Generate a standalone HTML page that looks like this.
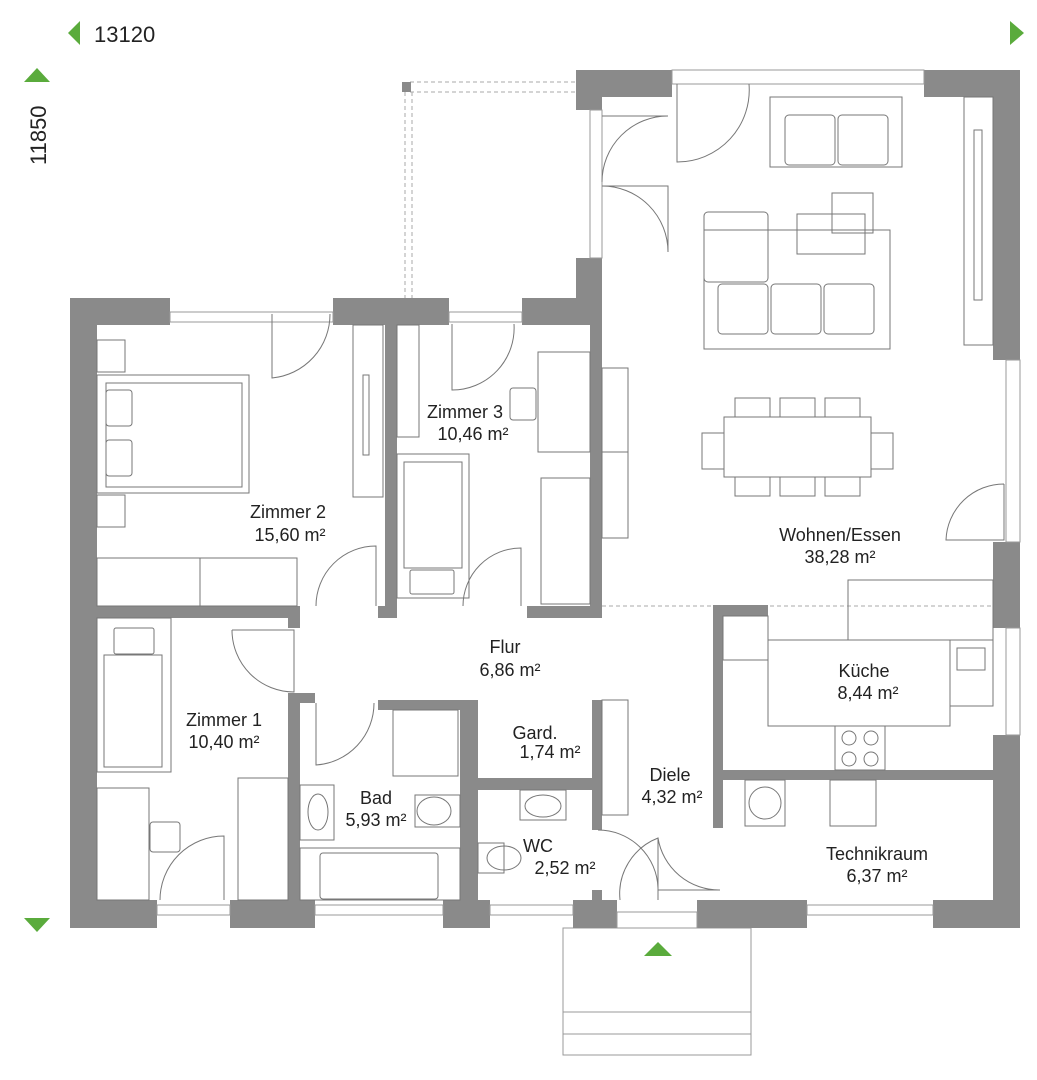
<!DOCTYPE html>
<html><head><meta charset="utf-8"><style>
html,body{margin:0;padding:0;background:#fff;}
svg{display:block;}
text{font-family:"Liberation Sans",sans-serif;fill:#222;}
</style></head><body>
<svg width="1037" height="1080" viewBox="0 0 1037 1080" xmlns="http://www.w3.org/2000/svg">
<polygon points="68,33 80,21 80,45" fill="#5aab3c"/>
<polygon points="1024,33 1010,21 1010,45" fill="#5aab3c"/>
<text x="94" y="42" font-size="22">13120</text>
<polygon points="37,68 24,82 50,82" fill="#5aab3c"/>
<polygon points="37,932 24,918 50,918" fill="#5aab3c"/>
<text x="46" y="165" font-size="22" transform="rotate(-90 46 165)">11850</text>
<polygon points="658,942 644,956 672,956" fill="#5aab3c"/>

<g stroke="#aaa" stroke-dasharray="4,3" fill="none" stroke-width="1">
<line x1="410" y1="82" x2="576" y2="82"/><line x1="410" y1="92" x2="576" y2="92"/>
<line x1="405" y1="92" x2="405" y2="298"/><line x1="412" y1="92" x2="412" y2="298"/>
<line x1="602" y1="606" x2="993" y2="606"/>
</g>
<rect x="402" y="82" width="9" height="10" fill="#8a8a8a"/>

<g stroke="#999" fill="none" stroke-width="1">
<rect x="563" y="928" width="188" height="127"/>
<line x1="563" y1="1012" x2="751" y2="1012"/><line x1="563" y1="1034" x2="751" y2="1034"/>
</g>

<g fill="#8a8a8a">
<rect x="70" y="298" width="27" height="630"/>
<rect x="70" y="298" width="100" height="27"/>
<rect x="333" y="298" width="116" height="27"/>
<rect x="522" y="298" width="80" height="27"/>
<rect x="576" y="70" width="96" height="27"/>
<rect x="576" y="70" width="26" height="40"/>
<rect x="576" y="258" width="26" height="67"/>
<rect x="590" y="325" width="12" height="293"/>
<rect x="924" y="70" width="96" height="27"/>
<rect x="993" y="70" width="27" height="290"/>
<rect x="993" y="542" width="27" height="86"/>
<rect x="993" y="735" width="27" height="193"/>
<rect x="70" y="900" width="87" height="28"/>
<rect x="230" y="900" width="85" height="28"/>
<rect x="443" y="900" width="47" height="28"/>
<rect x="573" y="900" width="44" height="28"/>
<rect x="697" y="900" width="110" height="28"/>
<rect x="933" y="900" width="87" height="28"/>
<rect x="385" y="325" width="12" height="281"/>
<rect x="97" y="606" width="203" height="12"/>
<rect x="288" y="606" width="12" height="22"/>
<rect x="378" y="606" width="19" height="12"/>
<rect x="527" y="606" width="75" height="12"/>
<rect x="288" y="693" width="12" height="207"/>
<rect x="288" y="693" width="27" height="10"/>
<rect x="378" y="700" width="100" height="10"/>
<rect x="460" y="700" width="18" height="200"/>
<rect x="476" y="778" width="124" height="12"/>
<rect x="592" y="700" width="10" height="115"/>
<rect x="592" y="815" width="10" height="15"/>
<rect x="592" y="890" width="10" height="10"/>
<rect x="713" y="605" width="10" height="223"/>
<rect x="713" y="605" width="55" height="11"/>
<rect x="723" y="770" width="270" height="10"/>
</g>

<g stroke="#999" fill="none" stroke-width="1">
<rect x="170" y="312" width="163" height="10"/>
<rect x="449" y="312" width="73" height="10"/>
<rect x="672" y="70" width="252" height="14"/>
<rect x="590" y="110" width="12" height="148"/>
<rect x="1006" y="360" width="14" height="182"/>
<rect x="1006" y="628" width="14" height="107"/>
<rect x="157" y="905" width="73" height="10"/>
<rect x="315" y="905" width="128" height="10"/>
<rect x="490" y="905" width="83" height="10"/>
<rect x="807" y="905" width="126" height="10"/>
<rect x="617" y="912" width="80" height="16"/>
</g>

<g stroke="#777" fill="none" stroke-width="1">
<path d="M272 314 V378 A64 64 0 0 0 330 314"/>
<path d="M452 324 V390 A62 62 0 0 0 514 324"/>
<path d="M677 84 V162 A72 72 0 0 0 749 84"/>
<path d="M602 116 H668 A66 66 0 0 0 602 182"/>
<path d="M602 186 H668 V252 A66 66 0 0 0 602 186" />
<path d="M316 606 A60 60 0 0 1 376 546 V606"/>
<path d="M463 606 A58 58 0 0 1 521 548 V606"/>
<path d="M232 630 H294 V692 A62 62 0 0 1 232 630"/>
<path d="M316 703 V765 A62 62 0 0 0 374 703"/>
<path d="M160 900 A64 64 0 0 1 224 836 V900"/>
<path d="M620 900 A60 60 0 0 1 658 838 V900"/>
<path d="M658 838 A62 62 0 0 0 720 890 H658"/>
<path d="M598 830 A60 60 0 0 1 658 888"/>
<path d="M1004 484 V540 H946 A58 58 0 0 1 1004 484"/>
</g>

<g stroke="#777" fill="none" stroke-width="1">
<rect x="97" y="340" width="28" height="32"/>
<rect x="97" y="375" width="152" height="118"/>
<rect x="106" y="383" width="136" height="104"/>
<rect x="106" y="390" width="26" height="36" rx="3"/>
<rect x="106" y="440" width="26" height="36" rx="3"/>
<rect x="97" y="495" width="28" height="32"/>
<rect x="97" y="558" width="200" height="48"/><line x1="200" y1="558" x2="200" y2="606"/>
<rect x="353" y="325" width="30" height="172"/><rect x="363" y="375" width="6" height="80"/>
<rect x="397" y="325" width="22" height="112"/>
<rect x="538" y="352" width="52" height="100"/>
<rect x="510" y="388" width="26" height="32" rx="3"/>
<rect x="397" y="454" width="72" height="144"/>
<rect x="404" y="462" width="58" height="106"/>
<rect x="410" y="570" width="44" height="24" rx="2"/>
<rect x="541" y="478" width="49" height="126"/>
<rect x="602" y="368" width="26" height="170"/><line x1="602" y1="452" x2="628" y2="452"/>
<rect x="770" y="97" width="132" height="70"/>
<rect x="785" y="115" width="50" height="50" rx="4"/><rect x="838" y="115" width="50" height="50" rx="4"/>
<rect x="964" y="97" width="29" height="248"/><rect x="974" y="130" width="8" height="170"/>
<rect x="832" y="193" width="41" height="40"/>
<rect x="797" y="214" width="68" height="40"/>
<rect x="704" y="230" width="186" height="119"/>
<rect x="704" y="212" width="64" height="70" rx="4"/>
<rect x="718" y="284" width="50" height="50" rx="4"/><rect x="771" y="284" width="50" height="50" rx="4"/><rect x="824" y="284" width="50" height="50" rx="4"/>
<rect x="724" y="417" width="147" height="60"/>
<rect x="735" y="398" width="35" height="19"/><rect x="780" y="398" width="35" height="19"/><rect x="825" y="398" width="35" height="19"/>
<rect x="735" y="477" width="35" height="19"/><rect x="780" y="477" width="35" height="19"/><rect x="825" y="477" width="35" height="19"/>
<rect x="702" y="433" width="22" height="36"/><rect x="871" y="433" width="22" height="36"/>
<rect x="848" y="580" width="145" height="60"/>
<rect x="768" y="640" width="182" height="86"/>
<rect x="723" y="616" width="45" height="44"/>
<rect x="950" y="640" width="43" height="66"/><rect x="957" y="648" width="28" height="22"/>
<rect x="835" y="726" width="50" height="44"/>
<circle cx="849" cy="738" r="7"/><circle cx="871" cy="738" r="7"/><circle cx="849" cy="759" r="7"/><circle cx="871" cy="759" r="7"/>
<rect x="745" y="780" width="40" height="46"/><circle cx="765" cy="803" r="16"/>
<rect x="830" y="780" width="46" height="46"/>
<rect x="97" y="618" width="74" height="154"/>
<rect x="104" y="655" width="58" height="112"/><rect x="114" y="628" width="40" height="26" rx="2"/>
<rect x="97" y="788" width="52" height="112"/>
<rect x="150" y="822" width="30" height="30" rx="3"/>
<rect x="238" y="778" width="50" height="122"/>
<rect x="393" y="710" width="65" height="66"/>
<rect x="300" y="785" width="34" height="55"/><ellipse cx="318" cy="812" rx="10" ry="18"/>
<rect x="415" y="795" width="45" height="32"/><ellipse cx="434" cy="811" rx="17" ry="14"/>
<rect x="300" y="848" width="160" height="52"/><rect x="320" y="853" width="118" height="46" rx="3"/>
<rect x="602" y="700" width="26" height="115"/>
<rect x="520" y="790" width="46" height="30"/><ellipse cx="543" cy="806" rx="18" ry="11"/>
<rect x="478" y="843" width="26" height="30"/><ellipse cx="504" cy="858" rx="17" ry="12"/>
</g>

<g font-size="18" text-anchor="middle">
<text x="288" y="518">Zimmer 2</text><text x="290" y="541">15,60 m²</text>
<text x="465" y="418">Zimmer 3</text><text x="473" y="440">10,46 m²</text>
<text x="840" y="541">Wohnen/Essen</text><text x="840" y="563">38,28 m²</text>
<text x="505" y="653">Flur</text><text x="510" y="676">6,86 m²</text>
<text x="864" y="677">Küche</text><text x="868" y="699">8,44 m²</text>
<text x="224" y="726">Zimmer 1</text><text x="224" y="748">10,40 m²</text>
<text x="535" y="739">Gard.</text><text x="550" y="758">1,74 m²</text>
<text x="670" y="781">Diele</text><text x="672" y="803">4,32 m²</text>
<text x="376" y="804">Bad</text><text x="376" y="826">5,93 m²</text>
<text x="538" y="852">WC</text><text x="565" y="874">2,52 m²</text>
<text x="877" y="860">Technikraum</text><text x="877" y="882">6,37 m²</text>
</g>
</svg>
</body></html>
